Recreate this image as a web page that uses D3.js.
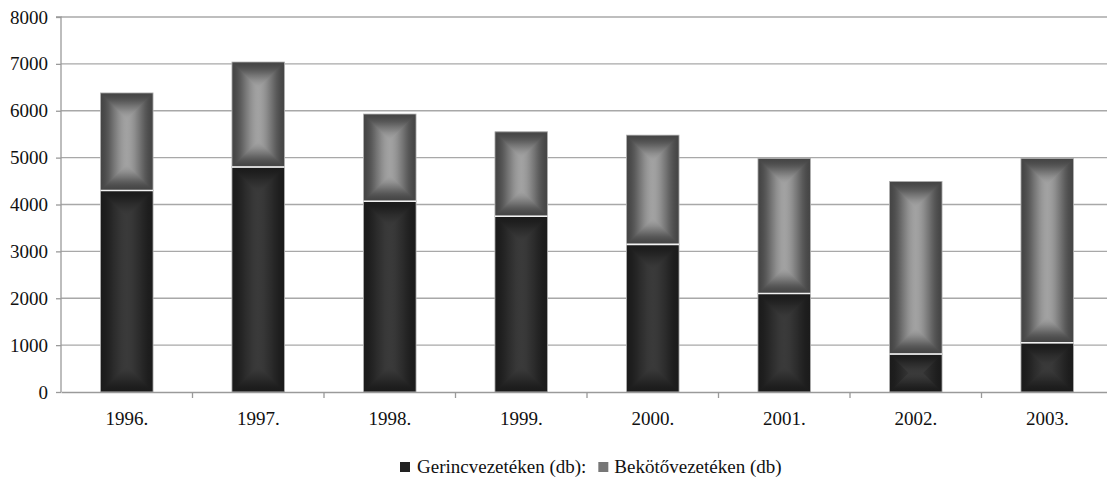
<!DOCTYPE html>
<html>
<head>
<meta charset="utf-8">
<script src="https://cdnjs.cloudflare.com/ajax/libs/d3/7.8.5/d3.min.js"></script>
<style>
body { margin: 0; overflow: hidden; background: #fff; }
svg text { font-family: 'Liberation Serif', Tinos, 'DejaVu Serif', serif; fill: #111; }
</style>
</head>
<body>
<svg width="1107" height="477"></svg>
<script>
const years = ['1996.', '1997.', '1998.', '1999.', '2000.', '2001.', '2002.', '2003.'];
const gerinc = [4300, 4800, 4070, 3750, 3150, 2100, 810, 1050];
const bekoto = [2080, 2240, 1860, 1800, 2330, 2880, 3680, 3930];
const yTicks = [0, 1000, 2000, 3000, 4000, 5000, 6000, 7000, 8000];
const seriesNames = ['Gerincvezetéken (db):', 'Bekötővezetéken (db)'];

(function () {
  const svg = d3.select('svg');
  const pLeft = 61, pRight = 1113, pTop = 17, pBottom = 392;

  const x = d3.scaleBand().domain(years).range([pLeft, pRight]).paddingInner(0.6).paddingOuter(0.3);
  const y = d3.scaleLinear().domain([0, 8000]).range([pBottom, pTop]);

  // rectangular ("path") gradients: edge colour -> centre colour, smoothstep
  const defs = svg.append('defs');
  const styles = [
    { id: 'g0', edge: '#1b1b1b', mid: '#3a3a3a' },
    { id: 'g1', edge: '#454545', mid: '#a2a2a2' }
  ];
  const offs = d3.range(0, 1.0001, 0.1);
  const smooth = o => o * o * (3 - 2 * o);
  styles.forEach(s => {
    const mix = d3.interpolateRgb(s.edge, s.mid);
    [['t', 0, 0, 0, 1], ['b', 0, 1, 0, 0]].forEach(([k, x1, y1, x2, y2]) => {
      const lg = defs.append('linearGradient').attr('id', s.id + k)
        .attr('x1', x1).attr('y1', y1).attr('x2', x2).attr('y2', y2);
      offs.forEach(o => lg.append('stop').attr('offset', o).attr('stop-color', mix(smooth(o))));
    });
    // symmetric horizontal base
    const hg = defs.append('linearGradient').attr('id', s.id + 'h')
      .attr('x1', 0).attr('y1', 0).attr('x2', 1).attr('y2', 0);
    offs.forEach(o => hg.append('stop').attr('offset', o / 2).attr('stop-color', mix(smooth(o))));
    offs.slice().reverse().forEach(o => hg.append('stop').attr('offset', 1 - o / 2).attr('stop-color', mix(smooth(o))));
  });

  // grid
  svg.append('g').selectAll('line').data(yTicks.slice(1)).join('line')
    .attr('x1', pLeft).attr('x2', 1107)
    .attr('y1', d => y(d)).attr('y2', d => y(d))
    .attr('stroke', '#a8a8a8').attr('stroke-width', 1.3);

  const stackData = years.map((yr, i) => ({ year: yr, a: gerinc[i], b: bekoto[i] }));
  const stacked = d3.stack().keys(['a', 'b'])(stackData);

  function drawGradRect(g, x0, y0, w, h, id) {
    const x1 = x0 + w, y1 = y0 + h, cx = x0 + w / 2, cy = y0 + h / 2;
    const m = Math.min(w, h) / 2;
    const ix0 = cx - (w / 2 - m), ix1 = cx + (w / 2 - m);
    const iy0 = cy - (h / 2 - m), iy1 = cy + (h / 2 - m);
    g.append('rect').attr('x', x0).attr('y', y0).attr('width', w).attr('height', h)
      .attr('fill', `url(#${id}h)`);
    const parts = [
      ['t', [[x0, y0], [x1, y0], [ix1, iy0], [ix0, iy0]]],
      ['b', [[x0, y1], [x1, y1], [ix1, iy1], [ix0, iy1]]]
    ];
    parts.forEach(([k, pts]) => {
      g.append('path')
        .attr('d', 'M' + pts.map(p => p.join(',')).join('L') + 'Z')
        .attr('fill', `url(#${id}${k})`);
    });
    g.append('rect').attr('x', x0).attr('y', y0).attr('width', w).attr('height', h)
      .attr('fill', 'none').attr('stroke', '#b4b4b4').attr('stroke-width', 0.8);
  }

  stacked.forEach((layer, li) => {
    const lg = svg.append('g');
    layer.forEach(d => {
      const x0 = x(d.data.year);
      const y0 = y(d[1]), h = y(d[0]) - y(d[1]);
      drawGradRect(lg.append('g'), x0, y0, x.bandwidth(), h, styles[li].id);
    });
  });

  // white separators between segments
  svg.append('g').selectAll('line').data(stackData).join('line')
    .attr('x1', d => x(d.year)).attr('x2', d => x(d.year) + x.bandwidth())
    .attr('y1', d => y(d.a)).attr('y2', d => y(d.a))
    .attr('stroke', '#f2f2f2').attr('stroke-width', 1.6);

  // axes
  const yAxis = svg.append('g').attr('transform', `translate(${pLeft},0)`)
    .call(d3.axisLeft(y).tickValues(yTicks).tickFormat(d3.format('d')).tickSize(5).tickPadding(8));
  const xAxis = svg.append('g').attr('transform', `translate(0,${pBottom})`)
    .call(d3.axisBottom(x).tickSize(0).tickPadding(20));
  [yAxis, xAxis].forEach(a => {
    a.selectAll('.domain').attr('stroke', '#9a9a9a').attr('stroke-width', 1.3);
    a.selectAll('.tick line').attr('stroke', '#9a9a9a').attr('stroke-width', 1.3);
    a.selectAll('.tick text').attr('font-size', 19);
  });
  yAxis.select('.domain').attr('d', `M-5,${pTop}H0V${pBottom}`);
  const step = x.step();
  xAxis.selectAll('.bticks').data(years.slice(1)).join('line')
    .attr('x1', d => x(d) - step * x.paddingInner() / 2).attr('x2', d => x(d) - step * x.paddingInner() / 2)
    .attr('y1', 0).attr('y2', 6).attr('stroke', '#9a9a9a').attr('stroke-width', 1.3);

  // legend
  const legend = svg.append('g').attr('transform', 'translate(400,467)');
  legend.append('rect').attr('x', 0).attr('y', -5).attr('width', 10).attr('height', 10).attr('fill', '#222');
  const t1 = legend.append('text').attr('x', 17).attr('y', 6).attr('font-size', 19).text(seriesNames[0]);
  const w1 = t1.node().getComputedTextLength();
  const lg2 = legend.append('g').attr('transform', `translate(${17 + w1 + 12},0)`);
  lg2.append('rect').attr('x', 0).attr('y', -5).attr('width', 10).attr('height', 10).attr('fill', '#777');
  lg2.append('text').attr('x', 16).attr('y', 6).attr('font-size', 19).text(seriesNames[1]);
})();
</script>
</body>
</html>
